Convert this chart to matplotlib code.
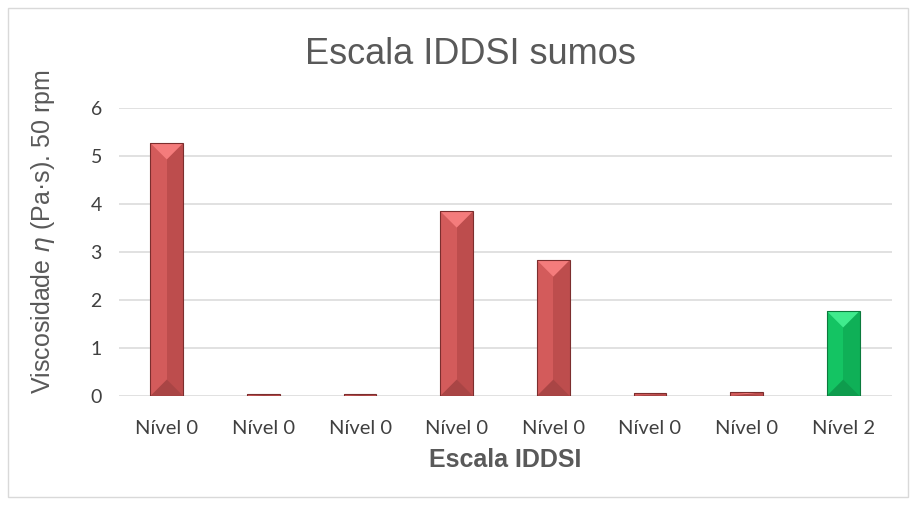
import numpy as np
import matplotlib
matplotlib.use("Agg")
import matplotlib.pyplot as plt
from matplotlib.patches import Polygon, Rectangle

categories = ["Nível 0", "Nível 0", "Nível 0", "Nível 0", "Nível 0", "Nível 0", "Nível 0", "Nível 2"]
values = [5.27, 0.04, 0.04, 3.85, 2.83, 0.06, 0.08, 1.77]
is_green = [False, False, False, False, False, False, False, True]
yticks = [0, 1, 2, 3, 4, 5, 6]

# face, right half, top bevel, bottom bevel, edge
red = ("#d35b5b", "#bd4d4d", "#f47c7c", "#a94545", "#7c2e2e")
green = ("#14c463", "#0fb057", "#40eb8d", "#0e9c4d", "#0b7a3c")

fig = plt.figure(figsize=(9.16, 5.05), dpi=100)
fig.patches.append(Rectangle((8 / 916, 8 / 505), 900 / 916, 489 / 505, transform=fig.transFigure,
                             fill=False, edgecolor="#d9d9d9", linewidth=1))
ax = fig.add_axes([118.5 / 916, 1 - 396 / 505, 773 / 916, 288 / 505])

x = np.arange(len(values))
width = 0.34
bars = ax.bar(x, values, width=width, color="none", zorder=2)

ax.set_xlim(-0.5, len(values) - 0.5)
ax.set_ylim(0, 6)

# bevel depth in data units: half the bar width in pixels, mapped to y units
fig.canvas.draw()
px_per_x = ax.transData.transform((1, 0))[0] - ax.transData.transform((0, 0))[0]
px_per_y = ax.transData.transform((0, 1))[1] - ax.transData.transform((0, 0))[1]
half_px = width / 2 * px_per_x

for b, g in zip(bars, is_green):
    face, dark, light, bottom, edge = green if g else red
    x0, w, h = b.get_x(), b.get_width(), b.get_height()
    xm = x0 + w / 2
    d = min(half_px / px_per_y, h / 2)
    ax.add_patch(Rectangle((x0, 0), w / 2, h, facecolor=face, edgecolor="none", zorder=2))
    ax.add_patch(Rectangle((xm, 0), w / 2, h, facecolor=dark, edgecolor="none", zorder=2))
    ax.add_patch(Polygon([(x0, h), (x0 + w, h), (xm, h - d)], facecolor=light, edgecolor="none", zorder=3))
    ax.add_patch(Polygon([(x0, 0), (x0 + w, 0), (xm, d)], facecolor=bottom, edgecolor="none", zorder=3))
    ax.add_patch(Rectangle((x0, 0), w, h, fill=False, edgecolor=edge, linewidth=0.8, zorder=4))

ax.set_yticks(yticks)
ax.set_xticks(x)
ax.set_xticklabels(categories, fontsize=14.5, color="#404040", family="Lato")
for lab in ax.get_yticklabels():
    lab.set_family("Lato")
ax.tick_params(axis="y", labelsize=14, labelcolor="#404040", length=0, pad=12)
ax.tick_params(axis="x", length=0, pad=17)
ax.grid(axis="y", color="#d9d9d9", linewidth=1.1, zorder=0)
ax.set_axisbelow(True)
for s in ax.spines.values():
    s.set_visible(False)

fig.text(470 / 916, 1 - 55 / 505, "Escala IDDSI sumos", ha="center", va="center",
         fontsize=26, color="#595959", family="Liberation Sans")
ax.set_xlabel("Escala IDDSI", fontsize=18, fontweight="bold", color="#595959",
              family="Liberation Sans", labelpad=8)
ax.set_ylabel(r"Viscosidade $\eta$ (Pa·s). 50 rpm", fontsize=18, color="#595959",
              family="Liberation Sans")
ax.yaxis.set_label_coords((57 - 118.5) / 773, (396 - 232) / 288)

fig.savefig("out.png", dpi=100)
